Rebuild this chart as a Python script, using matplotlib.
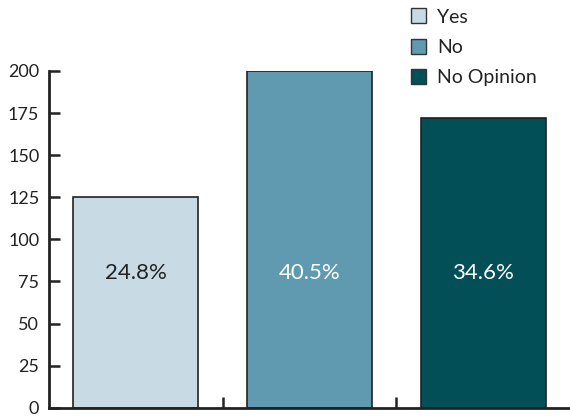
import numpy as np
import matplotlib.pyplot as plt
from matplotlib.patches import Patch

categories = ['Yes', 'No', 'No Opinion']
counts = [125, 200, 172]
pct_labels = ['24.8%', '40.5%', '34.6%']
colors = ['#c8dae3', '#5f9ab0', '#024f58']
text_colors = ['#222222', 'white', 'white']
yticks = [0, 25, 50, 75, 100, 125, 150, 175, 200]

plt.rcParams['font.family'] = ['Lato', 'DejaVu Sans']

fig = plt.figure(figsize=(5.7, 4.17), dpi=100)
fig.patch.set_facecolor('white')
ax = fig.add_axes([0.086, 0.022, 0.914, 0.808])
ax.set_facecolor('none')

x = np.arange(len(categories))
ax.bar(x, counts, width=0.72, color=colors, edgecolor='#222222', linewidth=1.2, zorder=3)

for xi, lab, tc in zip(x, pct_labels, text_colors):
    ax.text(xi, 80, lab, ha='center', va='center', fontsize=16, color=tc, zorder=4)

ax.set_xlim(-0.5, 2.5)
ax.set_ylim(0, 200)
ax.set_yticks(yticks)
ax.set_xticks([0.5, 1.5])
ax.set_xticklabels([])
ax.tick_params(axis='y', direction='in', length=8, width=1.8, labelsize=13, colors='#222222', pad=7)
ax.tick_params(axis='x', direction='in', length=8, width=1.8, colors='#222222')
for s in ['top', 'right']:
    ax.spines[s].set_visible(False)
for s in ['left', 'bottom']:
    ax.spines[s].set_linewidth(2)
    ax.spines[s].set_color('#222222')
    ax.spines[s].set_zorder(5)

handles = [Patch(facecolor=c, edgecolor='#333333', linewidth=1) for c in colors]
fig.legend(handles, categories, loc='upper left', bbox_to_anchor=(0.69, 1.022),
           frameon=False, fontsize=14, handlelength=0.8, handleheight=0.8,
           handletextpad=0.55, labelspacing=0.68, labelcolor='#222222')

fig.savefig('out.png', dpi=100)
